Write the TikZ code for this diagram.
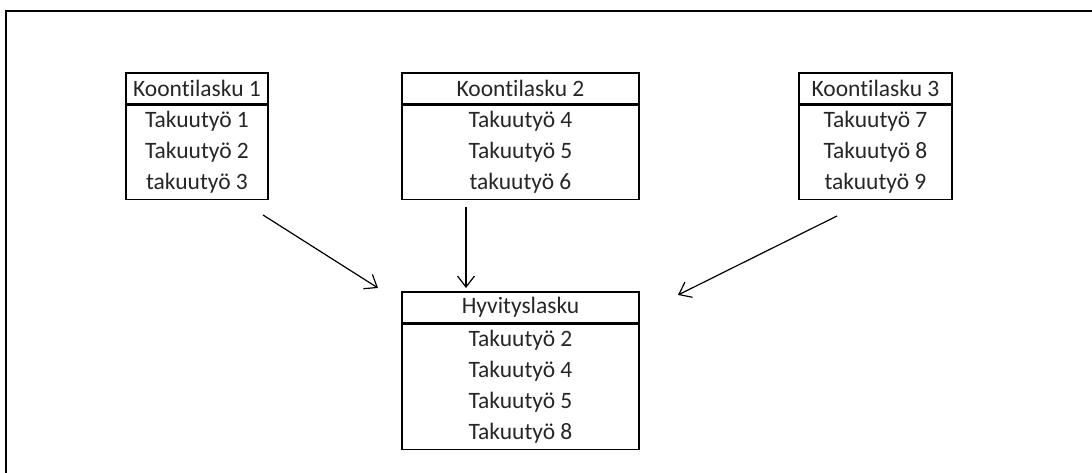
\documentclass[tikz,border=0pt]{standalone}
\usepackage{fontspec}
\setmainfont{Carlito}[Ligatures=NoCommon]
\usepackage{tikz}
\usetikzlibrary{arrows.meta}

\tikzset{
    otsikko/.style={draw, line width=1.2pt, inner sep=0pt, minimum height=31pt, text=black!85},
    rivit/.style={draw, line width=1.2pt, inner sep=0pt, align=center, text=black!85, anchor=north},
    nuoli/.style={line width=1.2pt, -{Straight Barb[length=11pt, width=17pt]}}
}

\begin{document}
\begin{tikzpicture}[x=1pt, y=1pt, font=\fontsize{23.5}{31}\selectfont]
            \useasboundingbox (0,0) rectangle (1092,473);
            \draw[line width=2.5pt] (6,0) -- (6,462) -- (1092,462);

            % koontilaskut
            \node[otsikko, minimum width=142pt] (k1) at (197,384.5) {Koontilasku 1};
            \node[rivit, minimum width=142pt, minimum height=94pt] (k1b) at (k1.south) {Takuutyö 1 \\ Takuutyö 2 \\ takuutyö 3};

            \node[otsikko, minimum width=237pt] (k2) at (520.5,384.5) {Koontilasku 2};
            \node[rivit, minimum width=237pt, minimum height=94pt] (k2b) at (k2.south) {Takuutyö 4 \\ Takuutyö 5 \\ takuutyö 6};

            \node[otsikko, minimum width=153pt] (k3) at (875.5,384.5) {Koontilasku 3};
            \node[rivit, minimum width=153pt, minimum height=94pt] (k3b) at (k3.south) {Takuutyö 7 \\ Takuutyö 8 \\ takuutyö 9};

            % hyvityslasku
            \node[otsikko, minimum width=237pt] (h) at (520.5,165.5) {Hyvityslasku};
            \node[rivit, minimum width=237pt, minimum height=125pt] (hb) at (h.south) {Takuutyö 2 \\ Takuutyö 4 \\ Takuutyö 5 \\ Takuutyö 8};

            \coordinate (n1a) at (263,258);
            \coordinate (n1b) at (378,185);
            \coordinate (n2a) at (466,266);
            \coordinate (n2b) at (466,185);
            \coordinate (n3a) at (837,257);
            \coordinate (n3b) at (678,178);

            \draw[nuoli] (n1a) -- (n1b);
            \draw[nuoli] (n2a) -- (n2b);
            \draw[nuoli] (n3a) -- (n3b);
        \end{tikzpicture}
\end{document}
